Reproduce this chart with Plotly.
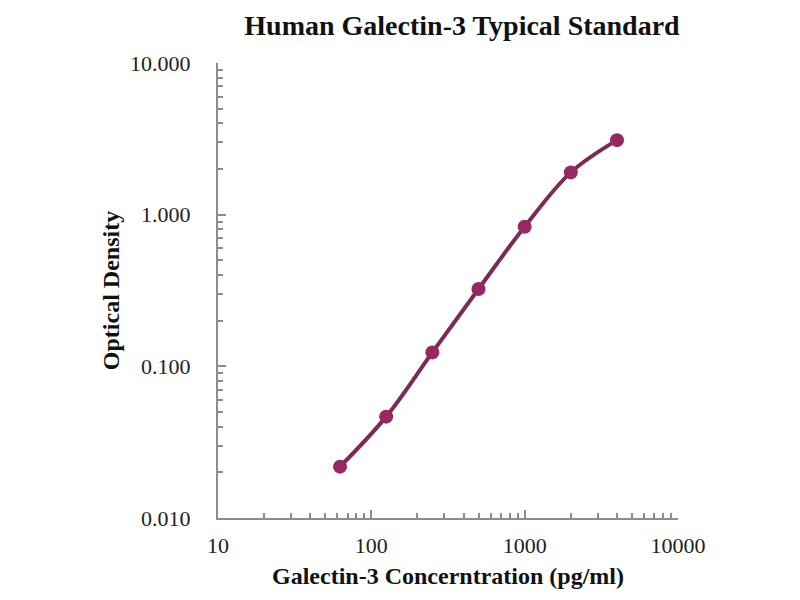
import plotly.graph_objects as go

# standard curve readings
conc = [62.5, 125, 250, 500, 1000, 2000, 4000]
od = [0.0218, 0.0466, 0.1236, 0.3236, 0.832, 1.90, 3.10]

x_ticks = [10, 100, 1000, 10000]
x_labels = ["10", "100", "1000", "10000"]
y_ticks = [0.01, 0.1, 1, 10]
y_labels = ["0.010", "0.100", "1.000", "10.000"]

serif = "Liberation Serif, Times New Roman, serif"
axis_col = "#8c8c8c"

fig = go.Figure()
fig.add_trace(go.Scatter(
    x=conc, y=od, mode="lines+markers",
    line=dict(color="#7c2a57", width=4, shape="spline"),
    marker=dict(color="#962a60", size=14),
    showlegend=False,
))

fig.update_xaxes(
    type="log", range=[1, 4],
    tickvals=x_ticks, ticktext=x_labels,
    showline=True, linecolor=axis_col, linewidth=2,
    ticks="inside", ticklen=8, tickcolor=axis_col, tickwidth=1.5,
    minor=dict(ticks="inside", ticklen=5, tickcolor=axis_col, dtick="D1", showgrid=False),
    showgrid=False, zeroline=False,
    ticklabelstandoff=7,
    tickfont=dict(family=serif, size=22, color="#222"),
    title=dict(text="<b>Galectin-3 Concerntration (pg/ml)</b>",
               font=dict(family=serif, size=24, color="#111"), standoff=10),
)
fig.update_yaxes(
    type="log", range=[-2, 1],
    tickvals=y_ticks, ticktext=y_labels,
    showline=True, linecolor=axis_col, linewidth=2,
    ticks="inside", ticklen=8, tickcolor=axis_col, tickwidth=1.5,
    minor=dict(ticks="inside", ticklen=5, tickcolor=axis_col, dtick="D1", showgrid=False),
    showgrid=False, zeroline=False,
    ticklabelstandoff=21,
    tickfont=dict(family=serif, size=22, color="#222"),
    title=dict(text="<b>Optical Density</b>",
               font=dict(family=serif, size=24, color="#111"), standoff=4),
)

fig.update_layout(
    width=800, height=600,
    margin=dict(l=210, r=130, t=55, b=90),
    plot_bgcolor="white", paper_bgcolor="white",
    title=dict(text="<b>Human Galectin-3 Typical Standard</b>",
               x=0.5675, xanchor="center", y=1, yanchor="top",
               pad=dict(t=7),
               font=dict(family=serif, size=28, color="#111")),
)

fig.write_html("out.html")
